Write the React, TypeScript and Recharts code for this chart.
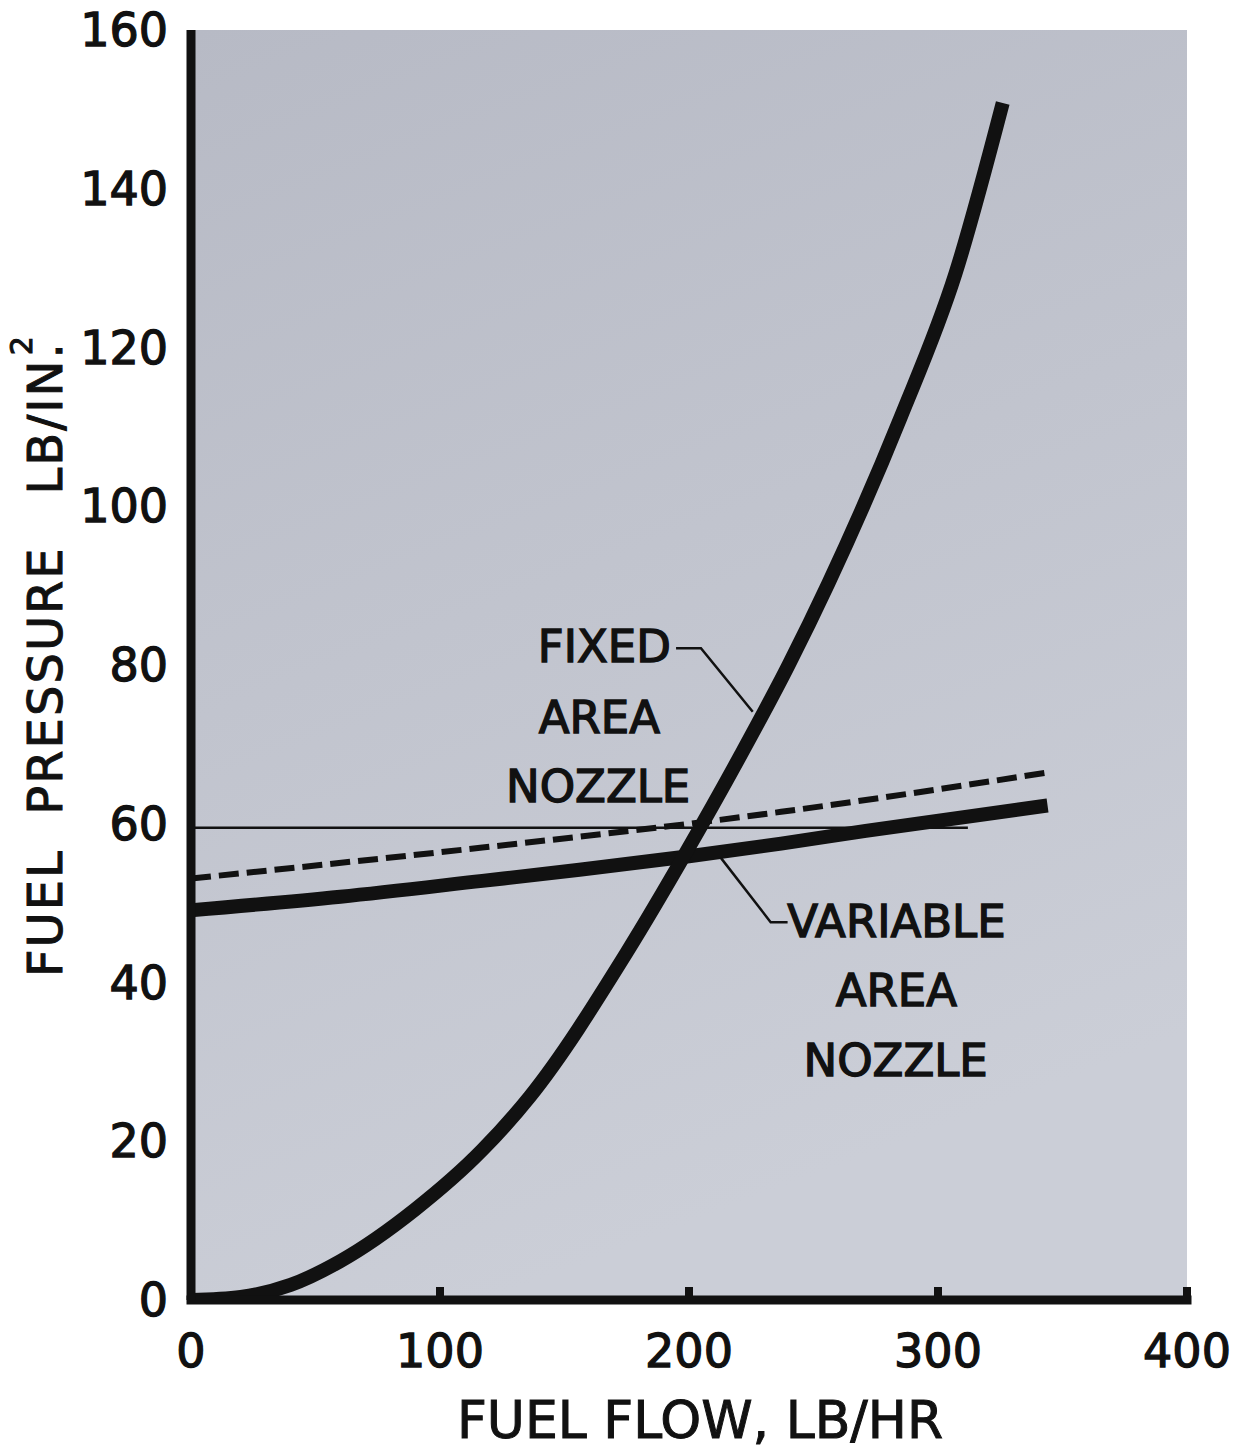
import { LineChart, Line, XAxis, YAxis, CartesianGrid, ReferenceDot } from 'recharts';

// fixed area nozzle (steep curve)
const fixedFlow = [0, 20, 40, 60, 90, 117, 136, 175, 199, 221, 240, 256, 285, 307, 326];
const fixedPressure = [0, 0.4, 1.9, 4.9, 11.4, 18.9, 25.6, 43.8, 56.5, 68.8, 80, 90.3, 111.2, 129.3, 150.8];

// variable area nozzle (thick, nearly flat)
const variableFlow = [0, 60, 117, 156, 200, 237, 271, 344];
const variablePressure = [49.1, 50.8, 52.8, 54.2, 55.9, 57.5, 59.1, 62.3];

// dashed curve
const dashedFlow = [0, 117, 154, 200, 237, 345];
const dashedPressure = [53.1, 57.0, 58.3, 60.0, 61.5, 66.5];

// thin horizontal line
const thinFlow = [0, 312];
const thinPressure = [59.5, 59.5];

// leader lines from the notes to the curves
const fixedLeaderFlow = [194.8, 204.8, 225.6];
const fixedLeaderPressure = [82.1, 82.1, 74.1];
const variableLeaderFlow = [212.8, 232.8, 239.6];
const variableLeaderPressure = [55.7, 47.6, 47.6];

const noteText = ['FIXED', 'AREA', 'NOZZLE', 'VARIABLE', 'AREA', 'NOZZLE'];
const noteFlow = [166, 164, 163.5, 283.3, 283.3, 283];
const notePressure = [82.4, 73.4, 64.8, 47.7, 39.1, 30.2];

const xTicks = [0, 100, 200, 300, 400];
const yTicks = [0, 20, 40, 60, 80, 100, 120, 140, 160];

const zip = (xs: number[], ys: number[]) => xs.map((flow, i) => ({ flow, p: ys[i] }));

const fixedData = zip(fixedFlow, fixedPressure);
const variableData = zip(variableFlow, variablePressure);
const dashedData = zip(dashedFlow, dashedPressure);
const thinData = zip(thinFlow, thinPressure);
const fixedLeader = zip(fixedLeaderFlow, fixedLeaderPressure);
const variableLeader = zip(variableLeaderFlow, variableLeaderPressure);

const INK = '#111';
const FONT = '"DejaVu Sans", sans-serif';

function XTick({ x, y, payload }: any) {
  return (
    <text x={x} y={y + 67} textAnchor="middle" fontSize={46} fontFamily={FONT} fill={INK} stroke={INK} strokeWidth={1.3}>
      {payload.value}
    </text>
  );
}

function YTick({ x, y, payload }: any) {
  return (
    <text x={x} y={y + 16} textAnchor="end" fontSize={46} fontFamily={FONT} fill={INK} stroke={INK} strokeWidth={1.3}>
      {payload.value}
    </text>
  );
}

function YTitle() {
  return (
    <text
      x={62}
      y={977}
      transform="rotate(-90 62 977)"
      textAnchor="start"
      fontSize={48}
      fontFamily={FONT}
      letterSpacing={2}
      fill={INK}
      stroke={INK}
      strokeWidth={1}
    >
      {'FUEL\u00a0\u00a0PRESSURE\u00a0\u00a0\u00a0LB/IN.'}
      <tspan dx={-14} dy={-30} fontSize={30}>2</tspan>
    </text>
  );
}

function XTitle() {
  return (
    <text x={700} y={1438} textAnchor="middle" fontSize={52} fontFamily={FONT} fill={INK} stroke={INK} strokeWidth={1}>
      FUEL FLOW, LB/HR
    </text>
  );
}

export default function App() {
  return (
    <div style={{ position: 'absolute', left: 0, top: 0, width: 1234, height: 1452, background: '#fff' }}>
      <LineChart width={1234} height={1452} margin={{ top: 30, right: 47, left: 91, bottom: 52 }}>
        <defs>
          <linearGradient id="paper" x1="0" y1="0" x2="0.3" y2="1">
            <stop offset="0" stopColor="#b7bac5" />
            <stop offset="1" stopColor="#cbced7" />
          </linearGradient>
        </defs>
        <CartesianGrid horizontal={false} vertical={false} fill="url(#paper)" />
        <XAxis
          type="number"
          dataKey="flow"
          domain={[0, 400]}
          ticks={xTicks}
          height={100}
          axisLine={{ stroke: INK, strokeWidth: 9, strokeLinecap: 'square' }}
          tickLine={{ stroke: INK, strokeWidth: 8 }}
          tickSize={-13}
          tickMargin={13}
          tick={<XTick />}
          interval={0}
          allowDataOverflow
        />
        <YAxis
          type="number"
          domain={[0, 160]}
          ticks={yTicks}
          width={100}
          axisLine={{ stroke: INK, strokeWidth: 9 }}
          tickLine={false}
          tickSize={0}
          tickMargin={23}
          tick={<YTick />}
          interval={0}
          allowDataOverflow
        />
        <Line data={thinData} dataKey="p" type="linear" stroke={INK} strokeWidth={2.5} dot={false} activeDot={false} isAnimationActive={false} />
        <Line data={dashedData} dataKey="p" type="monotone" stroke={INK} strokeWidth={6} strokeDasharray="20 8" dot={false} activeDot={false} isAnimationActive={false} />
        <Line data={variableData} dataKey="p" type="monotone" stroke={INK} strokeWidth={14} strokeLinecap="butt" dot={false} activeDot={false} isAnimationActive={false} />
        <Line data={fixedData} dataKey="p" type="monotone" stroke={INK} strokeWidth={14} strokeLinecap="butt" dot={false} activeDot={false} isAnimationActive={false} />
        <Line data={fixedLeader} dataKey="p" type="linear" stroke={INK} strokeWidth={2.5} dot={false} activeDot={false} isAnimationActive={false} />
        <Line data={variableLeader} dataKey="p" type="linear" stroke={INK} strokeWidth={2.5} dot={false} activeDot={false} isAnimationActive={false} />
        {noteText.map((t, i) => (
          <ReferenceDot
            key={i}
            x={noteFlow[i]}
            y={notePressure[i]}
            r={0}
            shape={(p: any) => (
              <text x={p.cx} y={p.cy + 16} textAnchor="middle" fontSize={45} fontFamily={FONT} fill={INK} stroke={INK} strokeWidth={1.4}>
                {t}
              </text>
            )}
          />
        ))}
        <YTitle />
        <XTitle />
      </LineChart>
    </div>
  );
}
